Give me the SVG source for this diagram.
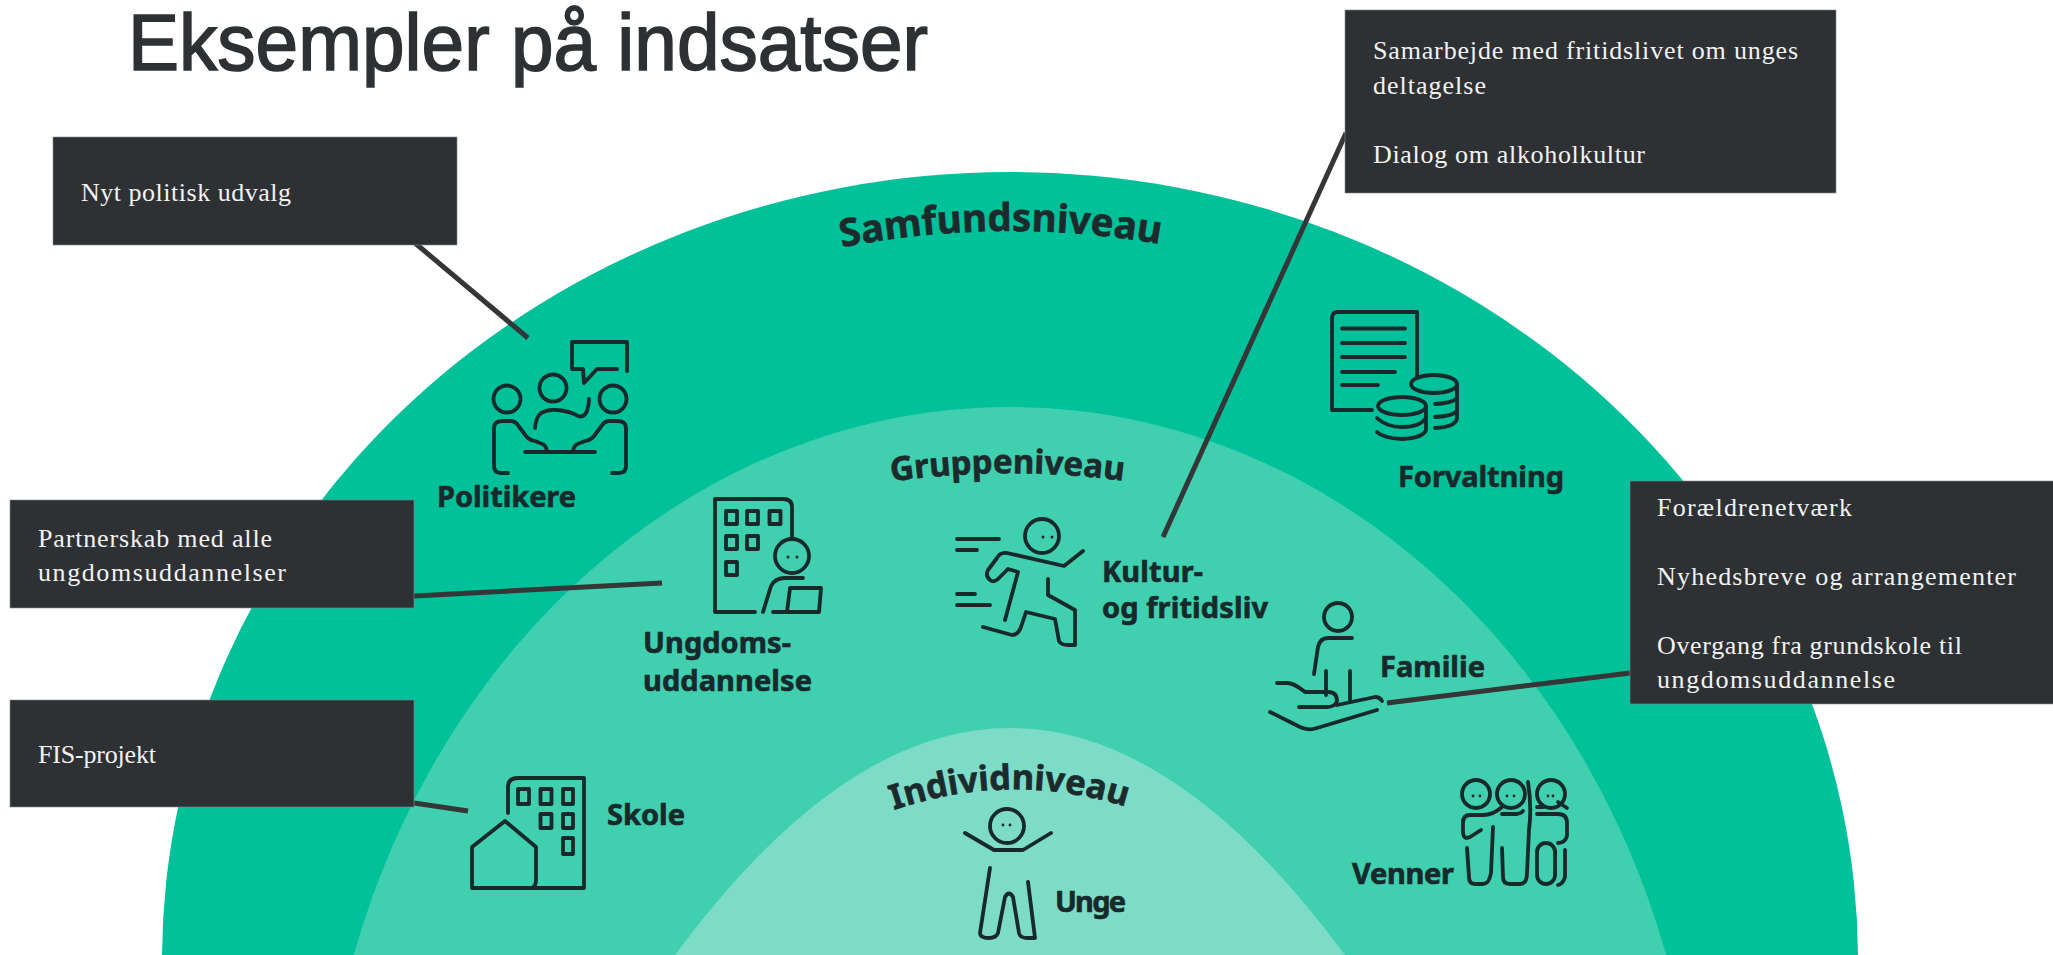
<svg xmlns="http://www.w3.org/2000/svg" width="2053" height="955" viewBox="0 0 2053 955">
<style>
.ic{fill:none;stroke:#17292b;stroke-width:3.8;stroke-linecap:round;stroke-linejoin:round}
.lb{font-family:"Noto Sans","Open Sans",sans-serif;font-weight:700;fill:#17292b;stroke:#17292b;stroke-width:.6;font-size:29px}
.cv{font-family:"Noto Sans","Open Sans",sans-serif;font-weight:700;fill:#1c2a2c;stroke:#1c2a2c;stroke-width:.6;text-anchor:middle}
.box{fill:#2e3134;stroke:#85888a;stroke-width:.6}
.bt{font-family:"Liberation Serif","Times New Roman",serif;fill:#f2f2f2;font-size:26px}
.eye{fill:#17292b}
.con{fill:none;stroke:#343638;stroke-width:5}
</style>
<defs>
<path id="arcS" d="M820 252 Q1000 212 1182 248"/>
<path id="arcG" d="M870 485 Q1005 462 1145 484"/>
<path id="arcI" d="M870 819 Q1008 762 1150 815"/>
</defs>
<rect width="2053" height="955" fill="#fff"/>
<g id="bands">
<ellipse cx="1010" cy="960" rx="848" ry="788" fill="#00c19a"/>
<ellipse cx="1010" cy="1200" rx="690" ry="793" fill="#40cfaf"/>
<path d="M675 955Q1010 501 1345 955Z" fill="#7ddcc8"/>
</g>
<text id="title" x="128" y="70" font-family="'Liberation Sans',Arial,sans-serif" font-size="79" fill="#2e3134" stroke="#2e3134" stroke-width="1.6" textLength="800" lengthAdjust="spacingAndGlyphs">Eksempler på indsatser</text>
<g id="level-samfund"><text class="cv" font-size="38.500"><textPath href="#arcS" startOffset="50%">Samfundsniveau</textPath></text></g>
<g id="level-gruppe"><text class="cv" font-size="33"><textPath href="#arcG" startOffset="50%">Gruppeniveau</textPath></text></g>
<g id="level-individ"><text class="cv" font-size="34.500"><textPath href="#arcI" startOffset="50%">Individniveau</textPath></text></g>

<g id="node-politikere">
<path class="ic" d="M627 371V342H572V369H583L584 383L597 369H617"/>
<circle class="ic" cx="507" cy="399" r="13.5"/><circle class="ic" cx="553" cy="388" r="13.5"/><circle class="ic" cx="613" cy="399" r="13.5"/>
<path class="ic" d="M508 473H501Q494 473 494 466V428Q494 421 503 421H511Q516 421 520 428L526 436Q529 440 535 441L540 443Q547 445 547 452"/>
<path class="ic" d="M612 473H619Q626 473 626 466V428Q626 421 617 421H609Q604 421 600 428L594 436Q591 440 585 441L580 443Q573 445 573 452"/>
<path class="ic" d="M525 452H595"/>
<path class="ic" d="M535 428Q536 417 541 413Q548 409 557 410Q570 411 578 416Q584 418 587 411Q589 405 589 399"/>
<text class="lb" x="437" y="507" textLength="139">Politikere</text>
</g>
<g id="node-forvaltning">
<path class="ic" d="M1372 410H1332V318Q1332 312 1338 312H1417V377"/>
<path class="ic" d="M1342 328.500H1405M1342 343H1405M1342 357H1405M1342 372H1395M1342 385H1378"/>
<ellipse class="ic" cx="1434" cy="384" rx="23" ry="9"/>
<path class="ic" d="M1457 384V418Q1456 427 1435 428M1435 404Q1453 403 1457 398M1435 417Q1453 416 1457 411"/>
<ellipse class="ic" cx="1402" cy="406" rx="24" ry="9"/>
<path class="ic" d="M1426 406V430Q1423 438 1402 439Q1383 438 1377 432M1377 418Q1386 427 1402 427Q1420 427 1426 418"/>
<text class="lb" x="1398" y="487" textLength="166">Forvaltning</text>
</g>
<g id="node-ungdomsuddannelse">
<path class="ic" d="M755 612H715V499H783Q792 499 792 507V538"/>
<path class="ic" d="M726 511h11v13h-11zM747 511h11v13h-11zM769.500 511h11v13h-11zM726 536h11v13h-11zM747 536h11v13h-11zM726 562h11v13h-11z"/>
<circle class="ic" cx="792" cy="556" r="17"/><circle class="eye" cx="788" cy="557" r="1.500"/><circle class="eye" cx="797" cy="557" r="1.500"/>
<path class="ic" d="M763 612L771 586Q775 578 785 578H803M773 612H819L821 588H790L787 612"/>
<text class="lb" x="643" y="653" textLength="148">Ungdoms-</text>
<text class="lb" x="643" y="691" textLength="169">uddannelse</text>
</g>
<g id="node-kultur">
<path class="ic" d="M957 539H999M957 550H977M957 594H975M957 605H990"/>
<circle class="ic" cx="1042" cy="536" r="17"/><circle class="eye" cx="1043" cy="537" r="1.500"/><circle class="eye" cx="1052" cy="537" r="1.500"/>
<path class="ic" d="M1083 551L1064 566L1007 553Q1000 552 997 558L988 570Q985 576 990 580Q994 583 998 579L1008 569L1018 572L1005 620"/>
<path class="ic" d="M983 627L1012 635Q1018 635 1021 627L1026 612L1055 619L1059 641Q1061 645 1068 645H1075V610L1048 595V579"/>
<text class="lb" x="1102" y="582" textLength="101">Kultur-</text>
<text class="lb" x="1102" y="618" textLength="166">og fritidsliv</text>
</g>
<g id="node-familie">
<circle class="ic" cx="1338" cy="617" r="14"/>
<path class="ic" d="M1352 638H1328Q1320 638 1318 647L1314 674M1326 671V695M1350 671V700"/>
<path class="ic" d="M1277 683H1287Q1294 683 1305 692H1328Q1337 692 1337 701Q1335 707 1327 707H1299M1337 705L1375 697Q1380 697 1382 701M1270 712L1300 727Q1308 731 1317 728L1377 710"/>
<text class="lb" x="1380" y="677" textLength="105">Familie</text>
</g>
<g id="node-venner">
<circle class="ic" cx="1476" cy="794" r="14"/><circle class="ic" cx="1511" cy="794" r="14"/><circle class="ic" cx="1551" cy="794" r="14"/>
<circle class="eye" cx="1473" cy="796" r="1.400"/><circle class="eye" cx="1480" cy="796" r="1.400"/><circle class="eye" cx="1507" cy="796" r="1.400"/><circle class="eye" cx="1514" cy="796" r="1.400"/><circle class="eye" cx="1548" cy="796" r="1.400"/><circle class="eye" cx="1553" cy="796" r="1.400"/>
<path class="ic" d="M1502 807Q1493 815 1483 815H1470Q1463 815 1463 823V833Q1464 840 1470 837L1481 830"/>
<path class="ic" d="M1493 827L1491 873Q1489 884 1483 884H1475Q1469 884 1469 877L1467 848"/>
<path class="ic" d="M1502 814H1517Q1522 813 1523 811M1502 848L1503 877Q1503 884 1510 884H1520Q1527 884 1527 873L1529 830Q1532 807 1528 782"/>
<path class="ic" d="M1558 802L1567 808M1537 807H1543M1537 814H1558Q1567 814 1567 823V836Q1565 843 1558 843"/>
<rect class="ic" x="1537" y="843" width="18" height="41" rx="9"/>
<path class="ic" d="M1555 851v4M1555 871v4M1565 850V877Q1563 884 1558 885"/>
<text class="lb" x="1352" y="884" textLength="102">Venner</text>
</g>
<g id="node-skole">
<path class="ic" d="M508 813V787Q508 778 518 778H584V888H472V847L505 821L536 847V880Q536 886 532 888"/>
<path class="ic" d="M518 789h11v15h-11zM540.500 789h11v15h-11zM563 789h10v15h-10zM540.500 814h11v14h-11zM563 814h10v14h-10zM563 838h10v16h-10z"/>
<text class="lb" x="607" y="825" textLength="78">Skole</text>
</g>
<g id="node-unge">
<circle class="ic" cx="1007" cy="826" r="17"/><circle class="eye" cx="1003" cy="825" r="1.400"/><circle class="eye" cx="1010" cy="825" r="1.400"/>
<path class="ic" d="M965 833L994 850H1023L1051 833"/>
<path class="ic" d="M990 868L980 933Q980 938 989 938Q996 938 998 933L1005 897Q1009 890 1013 897L1019 933Q1020 938 1027 938H1035L1028 882"/>
<text class="lb" x="1055" y="912" textLength="71">Unge</text>
</g>

<g id="connectors">
<path class="con" d="M415 243L528 338"/>
<path class="con" d="M414 596L662 583"/>
<path class="con" d="M414 803L468 811"/>
<path class="con" d="M1346 133L1163 537"/>
<path class="con" d="M1630 673L1387 703"/>
</g>

<g id="box-nyt"><rect class="box" x="53" y="137" width="404" height="108"/>
<text class="bt" x="81" y="201" textLength="210">Nyt politisk udvalg</text></g>
<g id="box-partnerskab"><rect class="box" x="10" y="500" width="404" height="108"/>
<text class="bt" x="38" y="547" textLength="234">Partnerskab med alle</text>
<text class="bt" x="38" y="581" textLength="248">ungdomsuddannelser</text></g>
<g id="box-fis"><rect class="box" x="10" y="700" width="404" height="107"/>
<text class="bt" x="38" y="763" textLength="118">FIS-projekt</text></g>
<g id="box-samarbejde"><rect class="box" x="1345" y="10" width="491" height="183"/>
<text class="bt" x="1373" y="59" textLength="425">Samarbejde med fritidslivet om unges</text>
<text class="bt" x="1373" y="94" textLength="113">deltagelse</text>
<text class="bt" x="1373" y="163" textLength="272">Dialog om alkoholkultur</text></g>
<g id="box-familie"><rect class="box" x="1630" y="481" width="424" height="223"/>
<text class="bt" x="1657" y="516" textLength="195">Forældrenetværk</text>
<text class="bt" x="1657" y="585" textLength="359">Nyhedsbreve og arrangementer</text>
<text class="bt" x="1657" y="654" textLength="305">Overgang fra grundskole til</text>
<text class="bt" x="1657" y="688" textLength="238">ungdomsuddannelse</text></g>
</svg>
